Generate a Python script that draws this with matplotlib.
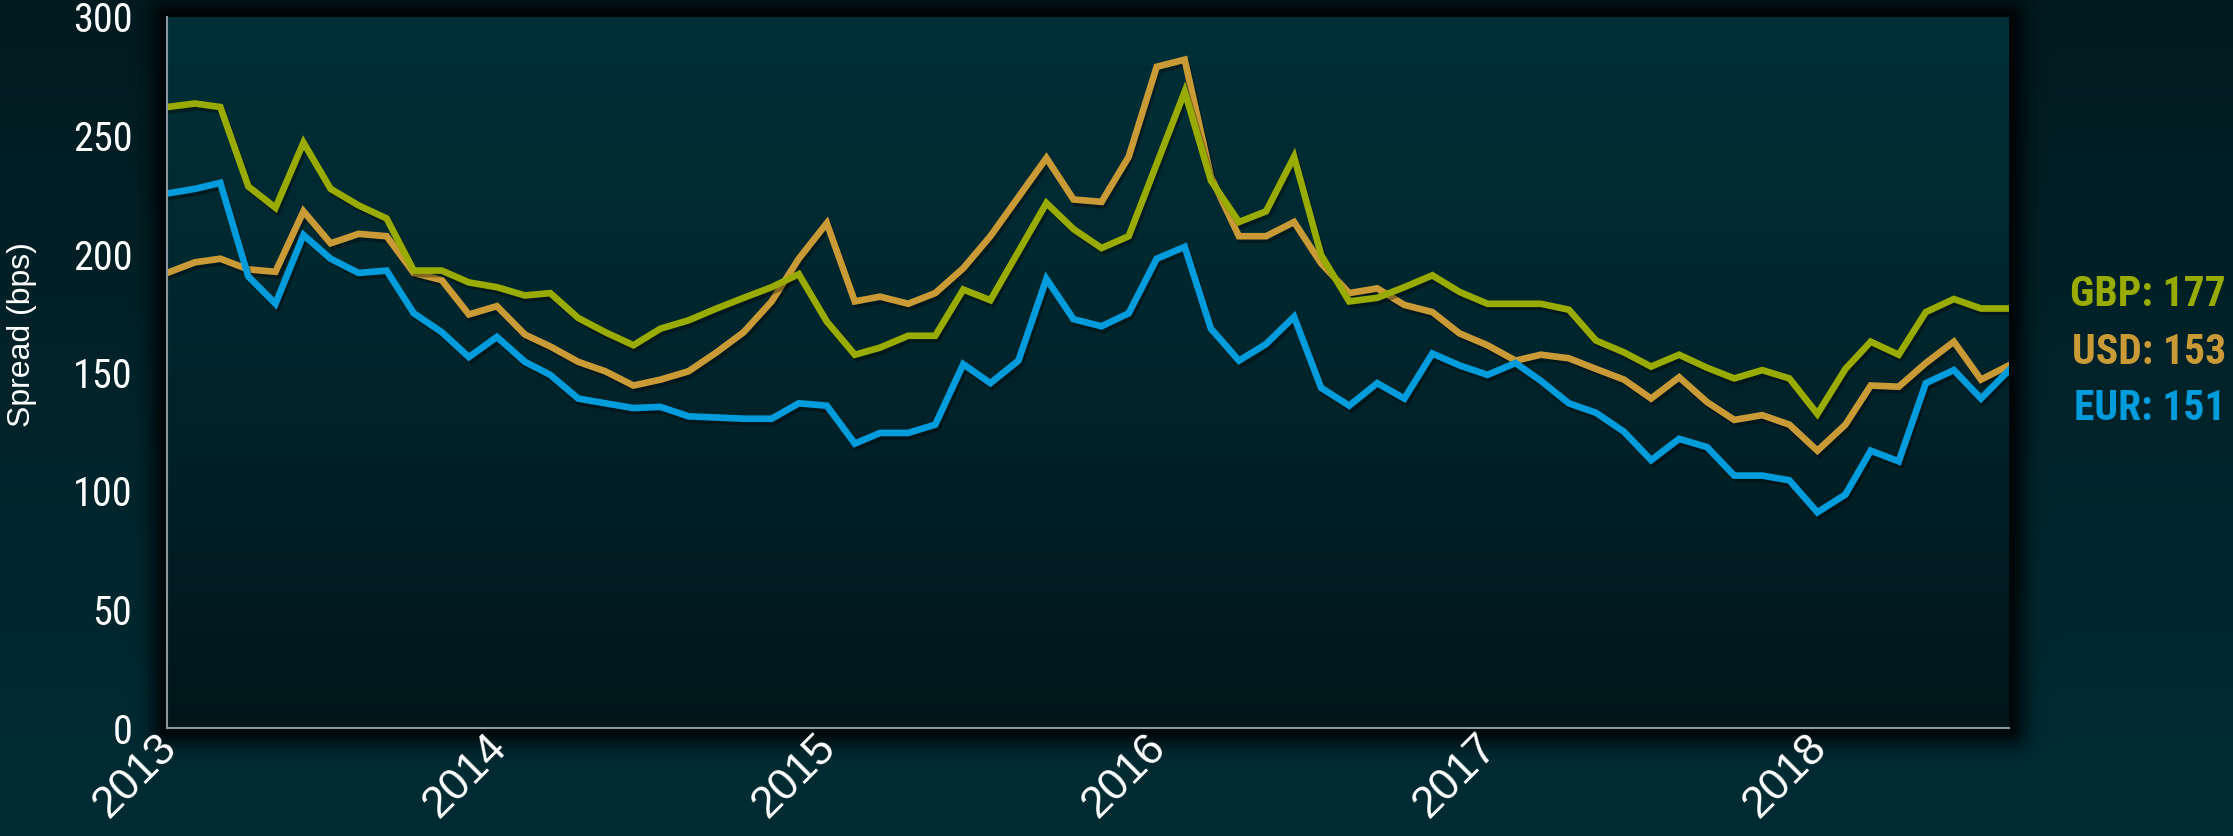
import numpy as np
import pandas as pd
import matplotlib
matplotlib.use("Agg")
import matplotlib.pyplot as plt
import matplotlib.dates as mdates
import matplotlib.patheffects as pe
from matplotlib import font_manager as fm

# monthly spreads in bps, Jan 2013 - Aug 2018
months = pd.date_range("2013-01-01", periods=68, freq="MS")

gbp = [262, 263.5, 262, 228.5, 219.5, 247, 227.5, 220.5, 215, 193, 193, 188,
       186, 182.5, 183.5, 173, 167, 161.5, 168.5, 172, 177, 181.5, 186, 191.5,
       171.5, 157.5, 160.5, 165.5, 165.5, 185, 180.5, 201, 221.5, 210.5, 202.5, 207.5,
       238, 268.5, 231, 213.5, 218, 241, 199.5, 180, 181.5, 186, 191, 184,
       179, 179, 179, 176.5, 163.5, 158.5, 152.5, 157.5, 152, 147.5, 151, 147.5,
       132.5, 151.5, 163, 157.5, 175.5, 181, 177, 177]
usd = [192, 196.5, 198, 193.5, 192.5, 218, 204.5, 208.5, 207.5, 192, 189, 174.5,
       178, 166, 161, 154.5, 150.5, 144.5, 147, 150.5, 158.5, 167, 180, 198,
       213, 180, 182, 179, 183.5, 194, 207.5, 224, 240.5, 223, 222, 241,
       279, 282, 232.5, 207.5, 207.5, 213.5, 196, 183.5, 185.5, 178.5, 175.5, 166.5,
       161.5, 155, 157.5, 156, 151.5, 147, 139, 148, 137.5, 130, 132, 128,
       117, 128, 144.5, 144, 154, 163, 147, 153]
eur = [225.5, 227.5, 230, 190.5, 179, 208, 198, 192, 193, 175, 167, 156.5,
       165, 154.5, 149, 139, 137, 135, 135.5, 131.5, 131, 130.5, 130.5, 137,
       136, 120, 124.5, 124.5, 128, 153.5, 145.5, 155, 189.5, 172.5, 169.5, 175,
       198, 203, 168.5, 155, 162, 173.5, 143.5, 136, 145.5, 139, 158, 153,
       149, 154, 146.5, 137, 133, 125, 113, 122, 118.5, 106.5, 106.5, 104.5,
       91, 98.5, 117, 112.5, 145.5, 151, 139, 151]

series = [("USD", usd, "#c99a36"), ("GBP", gbp, "#9aab00"), ("EUR", eur, "#009cdc")]
label_order = ["GBP", "USD", "EUR"]

W, H = 2233, 836
px0, px1, py0, py1 = 167, 2009, 17, 728   # plot panel in pixels


def rgb(h):
    return np.array([int(h[i:i + 2], 16) for i in (1, 3, 5)]) / 255.0


def narrow_font():
    """Pick a narrow sans face if one is installed."""
    fonts = fm.fontManager.ttflist
    names = {f.name for f in fonts}
    for n in ["Liberation Sans Narrow", "Arial Narrow", "Roboto Condensed",
              "Open Sans Condensed", "Noto Sans Condensed", "DejaVu Sans Condensed"]:
        if n in names:
            return {"family": [n]}, True
    cond = [f for f in fonts if str(f.stretch) in
            ("condensed", "semi-condensed", "extra-condensed", "ultra-condensed")]
    for pref in ["Roboto", "Open Sans", "Noto Sans", "Liberation Sans", "Inter", "DejaVu Sans"]:
        for f in cond:
            if f.name == pref:
                return {"family": [f.name], "stretch": f.stretch}, True
    return {"family": ["Liberation Sans"]}, False


narrow, has_narrow = narrow_font()

# background: teal gradient, darker panel with a soft drop shadow
t = np.linspace(0, 1, H)[:, None, None]
bg = rgb("#001b20") + (rgb("#002c34") - rgb("#001b20")) * t
bg = np.broadcast_to(bg, (H, W, 3)).copy()
X, Y = np.meshgrid(np.arange(W), np.arange(H))
dx = np.maximum(np.maximum(px0 - X, X - px1), 0)
dy = np.maximum(np.maximum(py0 - Y, Y - py1), 0)
d = np.hypot(dx, dy)
shade = 0.8 * np.exp(-(d / 18.0) ** 2)
bg *= (1 - shade)[..., None]
tp = np.linspace(0, 1, py1 - py0)[:, None, None]
panel = rgb("#012f37") + (rgb("#00161b") - rgb("#012f37")) * tp ** 1.2
bg[py0:py1, px0:px1] = panel

fig = plt.figure(figsize=(W / 100, H / 100), dpi=100)
bax = fig.add_axes([0, 0, 1, 1], zorder=-10)
bax.imshow(bg, aspect="auto", interpolation="nearest")
bax.axis("off")

ax = fig.add_axes([px0 / W, 1 - py1 / H, (px1 - px0) / W, (py1 - py0) / H])
ax.set_facecolor("none")

shadow = [pe.SimpleLineShadow(offset=(1.5, -2.5), shadow_color="black", alpha=0.35),
          pe.Normal()]
for name, vals, color in series:
    ax.plot(months, vals, color=color, lw=4.8, solid_joinstyle="miter",
            path_effects=shadow)

ax.set_xlim(months[0], months[-1])
ax.set_ylim(0, 300)
ax.set_yticks(range(0, 301, 50))
ax.xaxis.set_major_locator(mdates.YearLocator())
ax.xaxis.set_major_formatter(mdates.DateFormatter("%Y"))

for s in ["top", "right"]:
    ax.spines[s].set_visible(False)
for s in ["left", "bottom"]:
    ax.spines[s].set_color("#8a979c")
    ax.spines[s].set_linewidth(1.5)

tick_size = 29 if has_narrow else 26
ax.tick_params(axis="both", length=0, colors="white")
ax.tick_params(axis="y", pad=25)
ax.tick_params(axis="x", pad=7)
for lab in ax.get_yticklabels():
    lab.set_fontproperties(fm.FontProperties(size=tick_size, **narrow))
for lab in ax.get_xticklabels():
    lab.set_fontproperties(fm.FontProperties(family=["Liberation Sans", "DejaVu Sans"], size=32))
    lab.set_rotation(45)
    lab.set_ha("right")
    lab.set_va("center_baseline")
    lab.set_rotation_mode("anchor")

fig.text(22 / W, 1 - 335 / H, "Spread (bps)", rotation=90, ha="center", va="center",
         color="white", fontsize=23, family=["Liberation Sans", "DejaVu Sans"])

# latest values at the right edge
colors = {n: c for n, _, c in series}
last = {n: v[-1] for n, v, _ in series}
label_size = 30 if has_narrow else 26
for k, name in enumerate(label_order):
    fig.text(2226 / W, 1 - (295 + 57 * k) / H, f"{name}: {last[name]:.0f}",
             ha="right", va="center", color=colors[name],
             fontproperties=fm.FontProperties(size=label_size, weight="bold", **narrow))

fig.savefig("out.png", dpi=100)
